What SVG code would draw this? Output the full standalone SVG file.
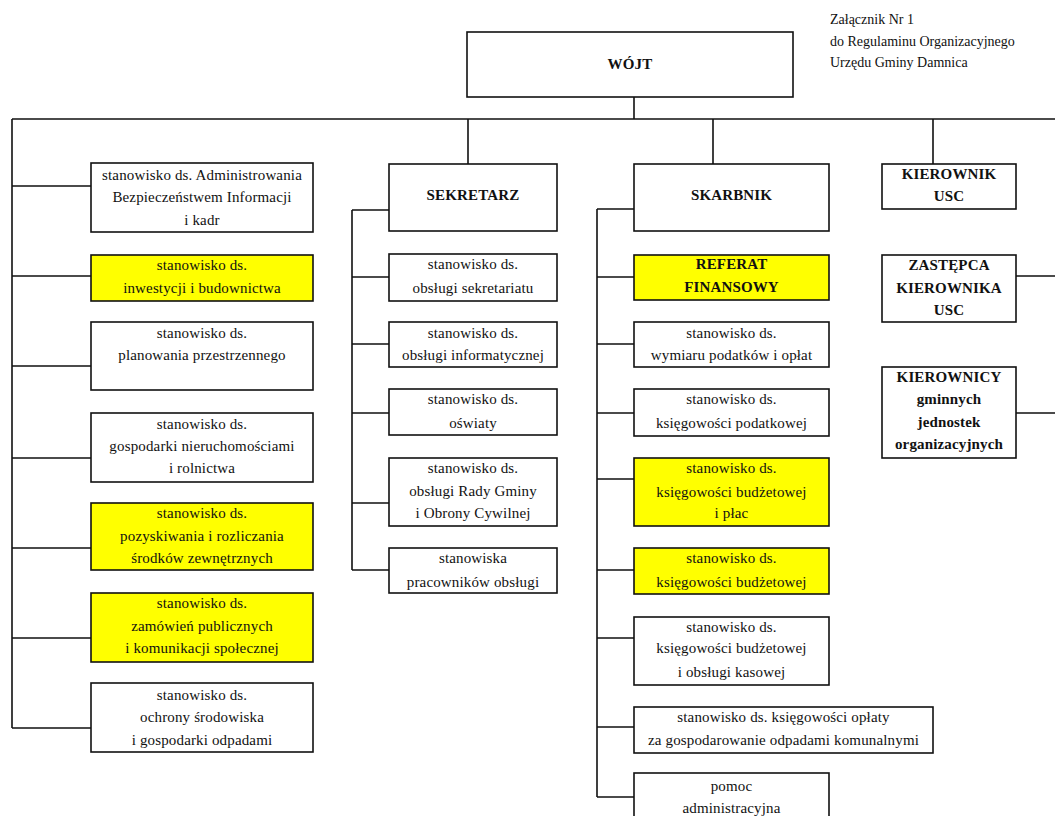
<svg xmlns="http://www.w3.org/2000/svg" width="1055" height="816" viewBox="0 0 1055 816">
<style>
.box{fill:#fff;stroke:#111;stroke-width:1.6}
.y{fill:#ffff00}
.c{fill:none;stroke:#111;stroke-width:1.6}
text{font-family:"Liberation Serif","Times New Roman",serif;font-size:15px;fill:#111;text-anchor:middle;letter-spacing:0.15px}
.b{font-weight:bold}
.h{font-size:14px;text-anchor:start;letter-spacing:0}
</style>
<rect width="1055" height="816" fill="#fff"/>
<g id="header">
<text class="h" x="830" y="24">Załącznik Nr 1</text>
<text class="h" x="830" y="46">do Regulaminu Organizacyjnego</text>
<text class="h" x="830" y="67">Urzędu Gminy Damnica</text>
</g>
<g id="connectors">
<path class="c" d="M634 97V119M12 119H1055"/>
<path class="c" d="M12 119V728M12 186H91M12 276H91M12 366H91M12 458H91M12 548H91M12 638H91M12 728H91"/>
<path class="c" d="M468 119V164M352 210V570M352 210H389M352 277H389M352 344H389M352 413H389M352 503H389M352 570H389"/>
<path class="c" d="M713 119V164M597 209V797M597 209H634M597 277H634M597 344H634M597 413H634M597 479H634M597 570H634M597 638H634M597 727H634M597 797H634"/>
<path class="c" d="M933 119V164M1016 276H1055M1016 413H1055"/>
</g>
<g id="wojt"><rect class="box" x="467" y="32" width="326" height="65"/><text class="b" x="630" y="69">WÓJT</text></g>
<g id="l1"><rect class="box" x="91" y="163" width="222" height="69"/><text x="202" y="180">stanowisko ds. Administrowania</text><text x="202" y="202">Bezpieczeństwem Informacji</text><text x="202" y="225">i kadr</text></g>
<g id="l2"><rect class="box y" x="91" y="255" width="222" height="46"/><text x="202" y="270">stanowisko ds.</text><text x="202" y="293">inwestycji i budownictwa</text></g>
<g id="l3"><rect class="box" x="91" y="322" width="222" height="68"/><text x="202" y="338">stanowisko ds.</text><text x="202" y="360">planowania przestrzennego</text></g>
<g id="l4"><rect class="box" x="91" y="413" width="222" height="69"/><text x="202" y="429">stanowisko ds.</text><text x="202" y="451">gospodarki nieruchomościami</text><text x="202" y="473">i rolnictwa</text></g>
<g id="l5"><rect class="box y" x="91" y="503" width="222" height="67"/><text x="202" y="518">stanowisko ds.</text><text x="202" y="541">pozyskiwania i rozliczania</text><text x="202" y="563">środków zewnętrznych</text></g>
<g id="l6"><rect class="box y" x="91" y="593" width="222" height="69"/><text x="202" y="608">stanowisko ds.</text><text x="202" y="631">zamówień publicznych</text><text x="202" y="653">i komunikacji społecznej</text></g>
<g id="l7"><rect class="box" x="91" y="683" width="222" height="69"/><text x="202" y="700">stanowisko ds.</text><text x="202" y="722">ochrony środowiska</text><text x="202" y="745">i gospodarki odpadami</text></g>
<g id="sekretarz"><rect class="box" x="389" y="164" width="168" height="67"/><text class="b" x="473" y="200">SEKRETARZ</text></g>
<g id="m1"><rect class="box" x="389" y="254" width="168" height="47"/><text x="473" y="269">stanowisko ds.</text><text x="473" y="293">obsługi sekretariatu</text></g>
<g id="m2"><rect class="box" x="389" y="322" width="168" height="45"/><text x="473" y="338">stanowisko ds.</text><text x="473" y="360">obsługi informatycznej</text></g>
<g id="m3"><rect class="box" x="389" y="389" width="168" height="46"/><text x="473" y="404">stanowisko ds.</text><text x="473" y="428">oświaty</text></g>
<g id="m4"><rect class="box" x="389" y="458" width="168" height="68"/><text x="473" y="473">stanowisko ds.</text><text x="473" y="496">obsługi Rady Gminy</text><text x="473" y="518">i Obrony Cywilnej</text></g>
<g id="m5"><rect class="box" x="389" y="548" width="168" height="45"/><text x="473" y="563">stanowiska</text><text x="473" y="587">pracowników obsługi</text></g>
<g id="skarbnik"><rect class="box" x="634" y="164" width="195" height="67"/><text class="b" x="731.5" y="200">SKARBNIK</text></g>
<g id="s1"><rect class="box y" x="634" y="255" width="195" height="45"/><text class="b" x="731.5" y="269">REFERAT</text><text class="b" x="731.5" y="292">FINANSOWY</text></g>
<g id="s2"><rect class="box" x="634" y="322" width="195" height="45"/><text x="731.5" y="338">stanowisko ds.</text><text x="731.5" y="360">wymiaru podatków i opłat</text></g>
<g id="s3"><rect class="box" x="634" y="389" width="195" height="47"/><text x="731.5" y="404">stanowisko ds.</text><text x="731.5" y="428">księgowości podatkowej</text></g>
<g id="s4"><rect class="box y" x="634" y="458" width="195" height="68"/><text x="731.5" y="473">stanowisko ds.</text><text x="731.5" y="497">księgowości budżetowej</text><text x="731.5" y="518">i płac</text></g>
<g id="s5"><rect class="box y" x="634" y="548" width="195" height="46"/><text x="731.5" y="563">stanowisko ds.</text><text x="731.5" y="587">księgowości budżetowej</text></g>
<g id="s6"><rect class="box" x="634" y="617" width="195" height="68"/><text x="731.5" y="632">stanowisko ds.</text><text x="731.5" y="653">księgowości budżetowej</text><text x="731.5" y="677">i obsługi kasowej</text></g>
<g id="s7"><rect class="box" x="634" y="707" width="299" height="46"/><text x="783.5" y="722">stanowisko ds. księgowości opłaty</text><text x="783.5" y="745">za gospodarowanie odpadami komunalnymi</text></g>
<g id="s8"><rect class="box" x="634" y="773" width="195" height="60"/><text x="731.5" y="791">pomoc</text><text x="731.5" y="813">administracyjna</text></g>
<g id="usc"><rect class="box" x="882" y="164" width="134" height="45"/><text class="b" x="949" y="179">KIEROWNIK</text><text class="b" x="949" y="201">USC</text></g>
<g id="zastepca"><rect class="box" x="882" y="255" width="134" height="67"/><text class="b" x="949" y="270">ZASTĘPCA</text><text class="b" x="949" y="293">KIEROWNIKA</text><text class="b" x="949" y="315">USC</text></g>
<g id="kierownicy"><rect class="box" x="882" y="367" width="134" height="91"/><text class="b" x="949" y="382">KIEROWNICY</text><text class="b" x="949" y="404">gminnych</text><text class="b" x="949" y="427">jednostek</text><text class="b" x="949" y="449">organizacyjnych</text></g>
</svg>
